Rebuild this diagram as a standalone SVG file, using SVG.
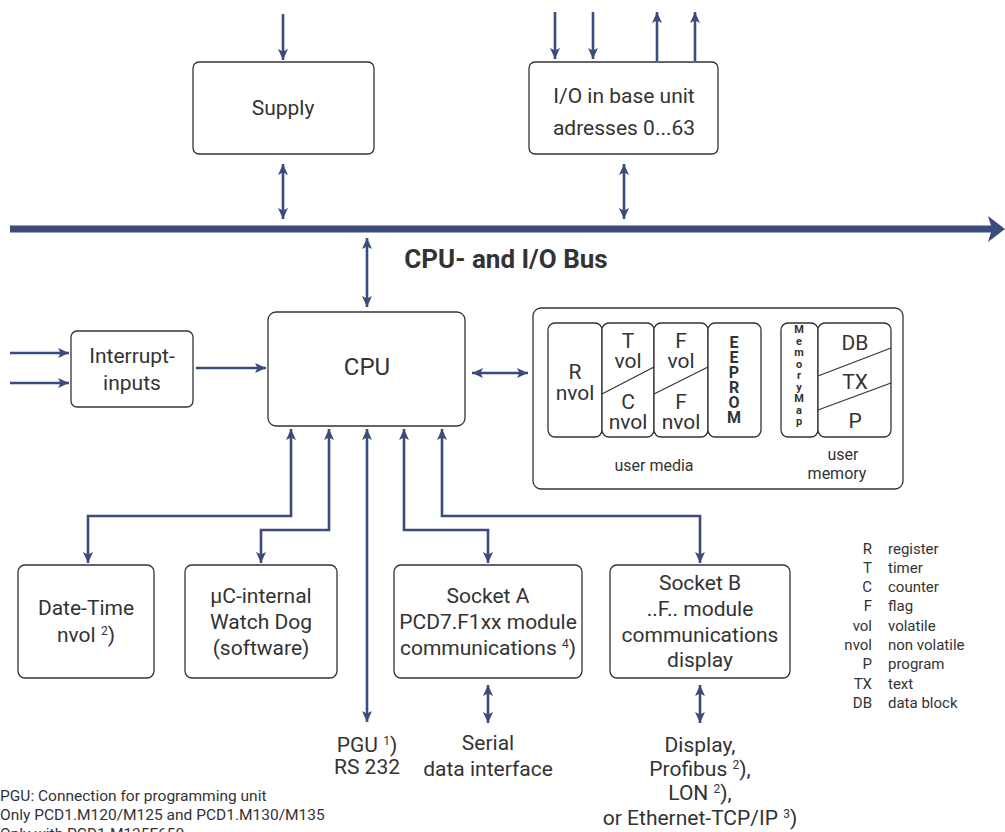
<svg xmlns="http://www.w3.org/2000/svg" width="1005" height="832" viewBox="0 0 1005 832">
<defs>
<marker id="ah" markerUnits="userSpaceOnUse" markerWidth="12" markerHeight="10" refX="11" refY="5" orient="auto-start-reverse" viewBox="0 0 12 10">
<path d="M0,0 L11,5 L0,10 L2.5,5 z" fill="#3b4c7c"/>
</marker>
<style>
.box{fill:#fff;stroke:#333;stroke-width:1.3}
.t{font-family:Roboto,"Liberation Sans",sans-serif;fill:#333;text-anchor:middle}
.n{font-size:21px}
.c{stroke:#3b4c7c;stroke-width:2.6;fill:none}
.ln{stroke:#333;stroke-width:1.2}
.lg{font-family:Roboto,"Liberation Sans",sans-serif;fill:#333;font-size:15px}
</style>
</defs>
<rect width="1005" height="832" fill="#fff"/>

<g id="connectors">
<line class="c" x1="283" y1="14" x2="283" y2="60" marker-end="url(#ah)"/>
<line class="c" x1="283" y1="164" x2="283" y2="219" marker-start="url(#ah)" marker-end="url(#ah)"/>
<line class="c" x1="555" y1="12" x2="555" y2="59" marker-end="url(#ah)"/>
<line class="c" x1="593" y1="12" x2="593" y2="59" marker-end="url(#ah)"/>
<line class="c" x1="657" y1="61" x2="657" y2="12" marker-end="url(#ah)"/>
<line class="c" x1="695" y1="61" x2="695" y2="12" marker-end="url(#ah)"/>
<line class="c" x1="624" y1="164" x2="624" y2="219" marker-start="url(#ah)" marker-end="url(#ah)"/>
<line x1="10" y1="229" x2="992" y2="229" stroke="#3b4c7c" stroke-width="7"/>
<polygon points="988,216 1005,229 988,242 992,229" fill="#3b4c7c"/>
<line class="c" x1="367" y1="238" x2="367" y2="307" marker-start="url(#ah)" marker-end="url(#ah)"/>
<line class="c" x1="10" y1="353" x2="69" y2="353" marker-end="url(#ah)"/>
<line class="c" x1="10" y1="383" x2="69" y2="383" marker-end="url(#ah)"/>
<line class="c" x1="196" y1="368" x2="266" y2="368" marker-end="url(#ah)"/>
<line class="c" x1="472" y1="373" x2="528" y2="373" marker-start="url(#ah)" marker-end="url(#ah)"/>
<path class="c" d="M88,563 V516 H291 V429" marker-start="url(#ah)" marker-end="url(#ah)"/>
<path class="c" d="M261,563 V530 H329 V429" marker-start="url(#ah)" marker-end="url(#ah)"/>
<path class="c" d="M367,722 V429" marker-start="url(#ah)" marker-end="url(#ah)"/>
<path class="c" d="M488,563 V530 H404 V429" marker-start="url(#ah)" marker-end="url(#ah)"/>
<path class="c" d="M700,563 V516 H442 V429" marker-start="url(#ah)" marker-end="url(#ah)"/>
<line class="c" x1="488" y1="685" x2="488" y2="723" marker-start="url(#ah)" marker-end="url(#ah)"/>
<line class="c" x1="700" y1="685" x2="700" y2="723" marker-start="url(#ah)" marker-end="url(#ah)"/>
</g>

<g id="supply">
<rect class="box" x="193" y="62" width="181" height="92" rx="6"/>
<text class="t n" x="283" y="115">Supply</text>
</g>
<g id="io">
<rect class="box" x="529" y="62" width="189" height="92" rx="6"/>
<text class="t n" x="624" y="103">I/O in base unit</text>
<text class="t n" x="624" y="135">adresses 0...63</text>
</g>
<g id="buslabel">
<text class="t" x="506" y="268" font-size="26" font-weight="bold">CPU- and I/O Bus</text>
</g>
<g id="cpu">
<rect class="box" x="268" y="312" width="197" height="114" rx="8"/>
<text class="t" x="367" y="375" font-size="24">CPU</text>
</g>
<g id="interrupt">
<rect class="box" x="71" y="331" width="122" height="76" rx="6"/>
<text class="t n" x="132" y="363">Interrupt-</text>
<text class="t n" x="132" y="390">inputs</text>
</g>
<g id="memory">
<rect class="box" x="533" y="308" width="370" height="181" rx="8"/>
<rect class="box" x="548" y="323" width="54" height="114" rx="7"/>
<text class="t n" x="575" y="379">R</text>
<text class="t n" x="575" y="400">nvol</text>
<rect class="box" x="602" y="323" width="52" height="114" rx="7"/>
<line class="ln" x1="602" y1="394" x2="654" y2="367"/>
<text class="t n" x="628" y="348">T</text>
<text class="t n" x="628" y="368">vol</text>
<text class="t n" x="628" y="409">C</text>
<text class="t n" x="628" y="429">nvol</text>
<rect class="box" x="654" y="323" width="54" height="114" rx="7"/>
<line class="ln" x1="654" y1="394" x2="708" y2="367"/>
<text class="t n" x="681" y="348">F</text>
<text class="t n" x="681" y="368">vol</text>
<text class="t n" x="681" y="409">F</text>
<text class="t n" x="681" y="429">nvol</text>
<rect class="box" x="708" y="323" width="53" height="114" rx="7"/>
<text class="t" font-size="16" font-weight="bold" x="734" y="348"><tspan x="734">E</tspan><tspan x="734" dy="15">E</tspan><tspan x="734" dy="15">P</tspan><tspan x="734" dy="15">R</tspan><tspan x="734" dy="15">O</tspan><tspan x="734" dy="15">M</tspan></text>
<rect class="box" x="781" y="323" width="37" height="114" rx="7"/>
<text class="t" font-size="11" font-weight="bold" x="799" y="333"><tspan x="799">M</tspan><tspan x="799" dy="11.5">e</tspan><tspan x="799" dy="11.5">m</tspan><tspan x="799" dy="11.5">o</tspan><tspan x="799" dy="11.5">r</tspan><tspan x="799" dy="11.5">y</tspan><tspan x="799" dy="11.5">M</tspan><tspan x="799" dy="11.5">a</tspan><tspan x="799" dy="11.5">p</tspan></text>
<rect class="box" x="818" y="323" width="73" height="114" rx="7"/>
<line class="ln" x1="818" y1="376" x2="891" y2="348"/>
<line class="ln" x1="818" y1="410" x2="891" y2="383"/>
<text class="t n" x="855" y="350">DB</text>
<text class="t n" x="855" y="389">TX</text>
<text class="t n" x="855" y="428">P</text>
<text class="t" x="654" y="471" font-size="16">user media</text>
<text class="t" x="843" y="460" font-size="16">user</text>
<text class="t" x="837" y="479" font-size="16">memory</text>
</g>
<g id="datetime">
<rect class="box" x="18" y="565" width="136" height="113" rx="7"/>
<text class="t n" x="86" y="615">Date-Time</text>
<text class="t n" x="86" y="642">nvol <tspan font-size="12" dy="-7">2</tspan><tspan dy="7">)</tspan></text>
</g>
<g id="watchdog">
<rect class="box" x="185" y="565" width="152" height="113" rx="7"/>
<text class="t n" x="261" y="603">µC-internal</text>
<text class="t n" x="261" y="629">Watch Dog</text>
<text class="t n" x="261" y="655">(software)</text>
</g>
<g id="socketA">
<rect class="box" x="394" y="565" width="188" height="113" rx="7"/>
<text class="t n" x="488" y="603">Socket A</text>
<text class="t n" x="488" y="629">PCD7.F1xx module</text>
<text class="t n" x="488" y="655">communications <tspan font-size="12" dy="-7">4</tspan><tspan dy="7">)</tspan></text>
</g>
<g id="socketB">
<rect class="box" x="610" y="565" width="180" height="113" rx="7"/>
<text class="t n" x="700" y="590">Socket B</text>
<text class="t n" x="700" y="616">..F.. module</text>
<text class="t n" x="700" y="642">communications</text>
<text class="t n" x="700" y="667">display</text>
</g>
<g id="pgu">
<text class="t n" x="367" y="752">PGU <tspan font-size="12" dy="-7">1</tspan><tspan dy="7">)</tspan></text>
<text class="t n" x="367" y="774">RS 232</text>
</g>
<g id="serial">
<text class="t n" x="488" y="750">Serial</text>
<text class="t n" x="488" y="776">data interface</text>
</g>
<g id="display">
<text class="t n" x="700" y="752">Display,</text>
<text class="t n" x="700" y="776">Profibus <tspan font-size="12" dy="-7">2</tspan><tspan dy="7">),</tspan></text>
<text class="t n" x="700" y="800">LON <tspan font-size="12" dy="-7">2</tspan><tspan dy="7">),</tspan></text>
<text class="t n" x="700" y="825">or Ethernet-TCP/IP <tspan font-size="12" dy="-7">3</tspan><tspan dy="7">)</tspan></text>
</g>
<g id="legend" class="lg">
<g text-anchor="end">
<text x="872" y="554">R</text>
<text x="872" y="573">T</text>
<text x="872" y="592">C</text>
<text x="872" y="611">F</text>
<text x="872" y="631">vol</text>
<text x="872" y="650">nvol</text>
<text x="872" y="669">P</text>
<text x="872" y="689">TX</text>
<text x="872" y="708">DB</text>
</g>
<text x="888" y="554">register</text>
<text x="888" y="573">timer</text>
<text x="888" y="592">counter</text>
<text x="888" y="611">flag</text>
<text x="888" y="631">volatile</text>
<text x="888" y="650">non volatile</text>
<text x="888" y="669">program</text>
<text x="888" y="689">text</text>
<text x="888" y="708">data block</text>
</g>
<g id="footnotes" class="lg">
<text x="0" y="801" font-size="15.5">PGU: Connection for programming unit</text>
<text x="0" y="820" font-size="15.5">Only PCD1.M120/M125 and PCD1.M130/M135</text>
<text x="0" y="839" font-size="15.5">Only with PCD1.M135F650</text>
</g>
</svg>
